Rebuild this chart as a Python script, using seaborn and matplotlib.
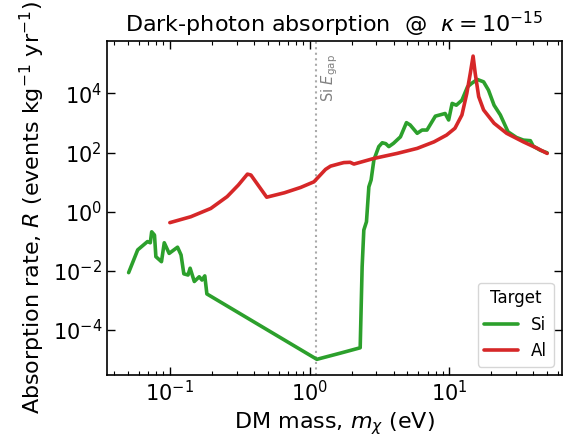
import numpy as np
import pandas as pd
import matplotlib
matplotlib.use("Agg")
import matplotlib.pyplot as plt
import seaborn as sns

# Absorption rate curves (log10 of mass in eV, log10 of rate in events/kg/yr)
si_log_mass = [-1.295, -1.23, -1.16, -1.14, -1.13, -1.11, -1.10, -1.06, -1.04, -1.005,
               -0.945, -0.92, -0.90, -0.87, -0.855, -0.825, -0.79, -0.77, -0.75, -0.735,
               0.052, 0.221, 0.362, 0.376, 0.388, 0.407, 0.424, 0.44, 0.46, 0.495,
               0.52, 0.545, 0.567, 0.60, 0.65, 0.693, 0.72, 0.77, 0.805, 0.84,
               0.90, 0.97, 0.995, 1.02, 1.05, 1.09, 1.13, 1.16, 1.20, 1.245,
               1.28, 1.32, 1.365, 1.42, 1.48, 1.53, 1.58, 1.60, 1.65, 1.70]
si_log_rate = [-2.06, -1.29, -1.01, -1.05, -0.68, -0.79, -1.52, -1.69, -1.05, -1.41,
               -1.20, -1.46, -2.10, -2.14, -1.91, -2.36, -2.20, -2.31, -2.17, -2.78,
               -4.99, -4.78, -4.60, -1.86, -0.62, -0.34, 0.84, 1.07, 1.75, 2.20,
               2.33, 2.30, 2.20, 2.31, 2.53, 3.01, 2.93, 2.65, 2.76, 2.76,
               3.23, 3.32, 3.10, 3.66, 3.60, 3.77, 4.22, 4.34, 4.47, 4.39,
               4.11, 3.60, 3.27, 2.70, 2.51, 2.42, 2.40, 2.22, 2.08, 1.99]

al_log_mass = [-1.0, -0.85, -0.707, -0.59, -0.51, -0.445, -0.42, -0.307, -0.18, -0.064,
               0.031, 0.114, 0.15, 0.22, 0.245, 0.29, 0.317, 0.46, 0.626, 0.77,
               0.89, 0.98, 1.04, 1.09, 1.125, 1.15, 1.17, 1.185, 1.21, 1.245,
               1.32, 1.41, 1.53, 1.63, 1.70]
al_log_rate = [-0.37, -0.17, 0.11, 0.51, 0.90, 1.27, 1.24, 0.49, 0.64, 0.82,
               1.01, 1.43, 1.54, 1.63, 1.66, 1.67, 1.61, 1.80, 1.97, 2.14,
               2.36, 2.59, 2.82, 3.27, 4.00, 4.68, 5.26, 4.68, 3.89, 3.44,
               2.99, 2.65, 2.36, 2.14, 1.97]

targets = ["Si", "Al"]
si_gap = 1.12  # eV

df = pd.concat([
    pd.DataFrame({"mass": 10 ** np.array(si_log_mass), "rate": 10 ** np.array(si_log_rate), "Target": "Si"}),
    pd.DataFrame({"mass": 10 ** np.array(al_log_mass), "rate": 10 ** np.array(al_log_rate), "Target": "Al"}),
], ignore_index=True)

sns.set_style("ticks", {"axes.edgecolor": "black", "text.color": "black",
                        "axes.labelcolor": "black", "xtick.color": "black",
                        "ytick.color": "black"})
plt.rcParams["font.family"] = ["DejaVu Sans"]
plt.rcParams["mathtext.fontset"] = "dejavusans"

fig, ax = plt.subplots(figsize=(5.63, 4.42), dpi=100)
fig.subplots_adjust(left=107 / 563, right=562 / 563, top=1 - 41 / 442, bottom=1 - 375 / 442)

sns.lineplot(data=df, x="mass", y="rate", hue="Target", hue_order=targets,
             palette={"Si": "#2ca02c", "Al": "#d62728"}, linewidth=2.6,
             estimator=None, sort=False, ax=ax)

ax.set_xscale("log")
ax.set_yscale("log")
ax.set_xlim(0.0355, 64)
ax.set_ylim(10 ** -5.52, 10 ** 5.77)

ax.axvline(si_gap, color="#aaaaaa", linestyle=":", linewidth=1.5, zorder=0)
ax.text(1.39, 10 ** 3.7, r"Si $E_{\rm gap}$", rotation=90, color="gray",
        fontsize=10.5, ha="center", va="bottom")

ax.set_title(r"Dark-photon absorption  @  $\kappa = 10^{-15}$", fontsize=16)
ax.set_xlabel(r"DM mass, $m_\chi$ (eV)", fontsize=16)
ax.set_ylabel(r"Absorption rate, $R$ (events kg$^{-1}$ yr$^{-1}$)", fontsize=16)

ax.yaxis.set_major_locator(matplotlib.ticker.LogLocator(base=100, numticks=10))
ax.yaxis.set_minor_locator(matplotlib.ticker.NullLocator())
ax.tick_params(which="both", direction="in", top=True, right=True, labelsize=15)
ax.tick_params(which="major", length=6, width=1)
ax.tick_params(which="minor", length=3, width=0.8)
for s in ax.spines.values():
    s.set_linewidth(1.2)

sns.move_legend(ax, "lower right", title="Target", fontsize=12, title_fontsize=12,
                frameon=True)

fig.savefig("out.png", dpi=100)
